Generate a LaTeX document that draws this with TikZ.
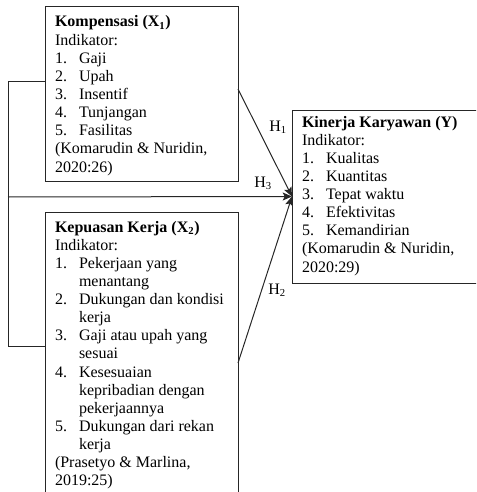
\documentclass[tikz,border=0pt]{standalone}
\usepackage{fontspec}
\setmainfont{Liberation Serif}
\usetikzlibrary{arrows.meta,calc}
\newcommand{\itm}[1]{\makebox[18pt][l]{#1}}
\newcommand{\cnt}{\hspace*{18pt}}
\begin{document}
\begin{tikzpicture}[x=0.75pt,y=-0.75pt,
  boxstyle/.style={draw=black!85,line width=0.75pt,inner sep=0pt,outer sep=0pt,anchor=north west,rectangle},
  txtstyle/.style={anchor=base west,inner sep=0pt,outer sep=0pt,font=\fontsize{12}{13.6}\selectfont},
  hlab/.style={anchor=base west,inner sep=0pt,font=\fontsize{12}{13.6}\selectfont},
  conn/.style={draw=black!85,line width=0.75pt},
  arr/.style={conn,-{Stealth[length=7pt,width=6pt,inset=1.5pt]}}]
\path[use as bounding box,clip] (0,0) rectangle (476,492);
\node[boxstyle,minimum width={193*0.75pt},minimum height={174*0.75pt}] (x1) at (45,7) {};
\node[boxstyle,minimum width={193*0.75pt},minimum height={302*0.75pt}] (x2) at (45,212) {};
\node[boxstyle,minimum width={200*0.75pt},minimum height={173*0.75pt}] (y) at (292,110) {};
\node[txtstyle] (t1) at (55,27) {\parbox[t]{175pt}{%
\textbf{Kompensasi (X\textsubscript{1})}\\
Indikator:\\
\itm{1.}Gaji\\
\itm{2.}Upah\\
\itm{3.}Insentif\\
\itm{4.}Tunjangan\\
\itm{5.}Fasilitas\\
(Komarudin \& Nuridin,\\
2020:26)}};
\node[txtstyle] (t2) at (55,232) {\parbox[t]{175pt}{%
\textbf{Kepuasan Kerja (X\textsubscript{2})}\\
Indikator:\\
\itm{1.}Pekerjaan yang\\
\cnt menantang\\
\itm{2.}Dukungan dan kondisi\\
\cnt kerja\\
\itm{3.}Gaji atau upah yang\\
\cnt sesuai\\
\itm{4.}Kesesuaian\\
\cnt kepribadian dengan\\
\cnt pekerjaannya\\
\itm{5.}Dukungan dari rekan\\
\cnt kerja\\
(Prasetyo \& Marlina,\\
2019:25)}};
\node[txtstyle] (t3) at (302,127) {\parbox[t]{175pt}{%
\textbf{Kinerja Karyawan (Y)}\\
Indikator:\\
\itm{1.}Kualitas\\
\itm{2.}Kuantitas\\
\itm{3.}Tepat waktu\\
\itm{4.}Efektivitas\\
\itm{5.}Kemandirian\\
(Komarudin \& Nuridin,\\
2020:29)}};
\coordinate (lft) at (8,197);
\draw[conn] ($(x1.west)+(0,-13)$) -| (lft);
\draw[conn] ($(x2.west)+(0,-17)$) -| (lft);
\draw[arr] (lft) -- (y.west);
\draw[arr] ($(x1.east)+(0,-5)$) -- (y.west);
\draw[arr] (x2.east) -- (y.west);
\node[hlab] (h1) at (269,131) {H\textsubscript{1}};
\node[hlab] (h3) at (254,187) {H\textsubscript{3}};
\node[hlab] (h2) at (268,294) {H\textsubscript{2}};
\end{tikzpicture}
\end{document}
